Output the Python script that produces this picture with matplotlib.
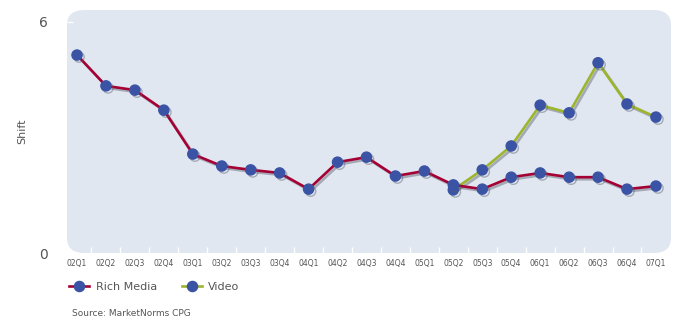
import numpy as np
import matplotlib
matplotlib.use("Agg")
import matplotlib.pyplot as plt
import matplotlib.patheffects as pe
from matplotlib.patches import FancyBboxPatch
from matplotlib.lines import Line2D

quarters = ["02Q1", "02Q2", "02Q3", "02Q4", "03Q1", "03Q2", "03Q3", "03Q4",
            "04Q1", "04Q2", "04Q3", "04Q4", "05Q1", "05Q2", "05Q3", "05Q4",
            "06Q1", "06Q2", "06Q3", "06Q4", "07Q1"]
rich_media = [5.14, 4.34, 4.23, 3.71, 2.57, 2.26, 2.16, 2.08, 1.66, 2.36, 2.49,
              2.00, 2.13, 1.77, 1.66, 1.97, 2.08, 1.97, 1.97, 1.66, 1.74]
video_quarters = quarters[13:]
video = [1.64, 2.16, 2.78, 3.84, 3.64, 4.94, 3.87, 3.53]

RED = "#a50034"
GREEN = "#9cb52b"
BLUE = "#3a53a4"
BG = "#e0e7f1"
GREY = "#555555"

fig = plt.figure(figsize=(6.73, 3.22), dpi=100)
ax = fig.add_axes([0.0996, 0.214, 0.8974, 0.755])
ax.set_facecolor("none")
for s in ax.spines.values():
    s.set_visible(False)

bg = FancyBboxPatch((0, 0), 1, 1, boxstyle="round,pad=0,rounding_size=0.03",
                    transform=ax.transAxes, facecolor=BG, edgecolor="none",
                    mutation_aspect=2.0, zorder=0)
ax.add_patch(bg)

x_all = np.arange(len(quarters))
x_vid = np.array([quarters.index(q) for q in video_quarters])

shadow = [pe.SimpleLineShadow(offset=(1.5, -1.5), shadow_color="#5a6070", alpha=0.45),
          pe.Normal()]
ax.plot(x_vid, video, color=GREEN, lw=1.9, marker="o", ms=7.3,
        mfc=BLUE, mec=BLUE, zorder=3, path_effects=shadow)
ax.plot(x_all, rich_media, color=RED, lw=1.9, marker="o", ms=7.3,
        mfc=BLUE, mec=BLUE, zorder=4, path_effects=shadow)

ax.set_xlim(-0.345, 20.52)
ax.set_ylim(0, 6.31)
ax.set_xticks(x_all)
ax.set_xticklabels(quarters, fontsize=5.5, color=GREY)
ax.tick_params(axis="x", length=0, pad=4)
ax.set_xticks(x_all[:-1] + 0.5, minor=True)
ax.tick_params(axis="x", which="minor", direction="in", length=4,
               color="white", width=1)
ax.set_yticks([0, 6])
ax.set_yticklabels(["0", "6"], fontsize=10, color=GREY)
ax.tick_params(axis="y", direction="in", length=4, color="white", width=1, pad=14)
ax.set_ylabel("Shift", fontsize=8, color=GREY, labelpad=8)

handles = [Line2D([], [], color=RED, lw=1.9, marker="o", ms=7.3, mfc=BLUE, mec=BLUE),
           Line2D([], [], color=GREEN, lw=1.9, marker="o", ms=7.3, mfc=BLUE, mec=BLUE)]
fig.legend(handles, ["Rich Media", "Video"], loc="center left",
           bbox_to_anchor=(0.088, 0.108), ncol=2, frameon=False,
           fontsize=8, labelcolor=GREY, handlelength=1.8, columnspacing=2.2,
           handletextpad=0.6)

fig.text(0.107, 0.018, "Source: MarketNorms CPG", fontsize=6.5, color=GREY)

fig.savefig("out.png", dpi=100)
